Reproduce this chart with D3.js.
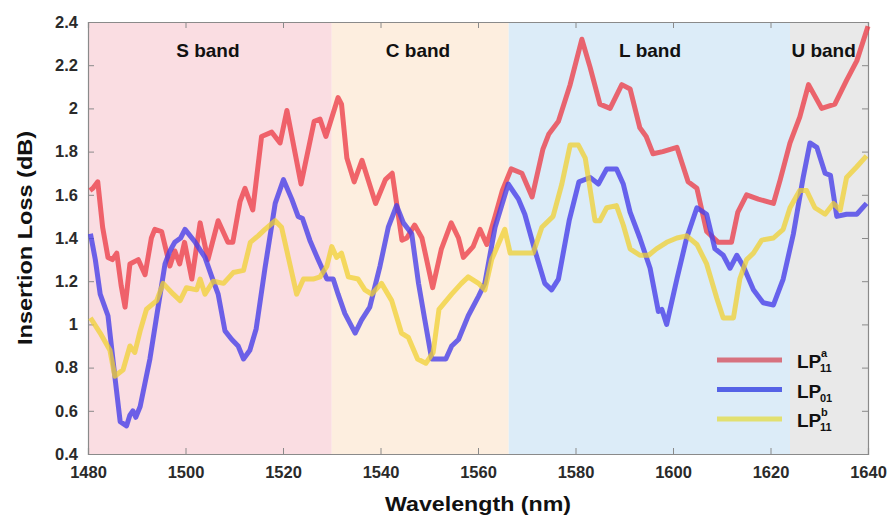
<!DOCTYPE html>
<html><head><meta charset="utf-8">
<script src="https://cdn.jsdelivr.net/npm/d3@7"></script>
<style>body{margin:0;background:#fff}svg{display:block;font-family:Arial,"Liberation Sans",sans-serif}</style>
</head><body><svg id="c" width="888" height="516"></svg>
<script>
// ---------- data ----------
const xTicks = [1480,1500,1520,1540,1560,1580,1600,1620,1640];
const yTicks = [0.4,0.6,0.8,1.0,1.2,1.4,1.6,1.8,2.0,2.2,2.4];
const bandNames = ["S band","C band","L band","U band"];
const bandEdges = [1480,1530,1566.3,1624,1640];
const seriesNames = ["LP11a","LP01","LP11b"];

const lp11a = [[1480.4,1.62],[1481.0,1.63],[1482.0,1.66],[1483.0,1.45],[1484.1,1.31],[1485.0,1.30],[1485.9,1.33],[1486.8,1.18],[1487.6,1.08],[1488.6,1.28],[1490.3,1.30],[1491.7,1.23],[1493.0,1.40],[1493.7,1.44],[1495.1,1.43],[1496.8,1.27],[1497.8,1.34],[1498.8,1.28],[1499.8,1.38],[1501.3,1.21],[1503.0,1.47],[1504.6,1.30],[1506.7,1.48],[1508.7,1.38],[1509.7,1.38],[1511.2,1.57],[1512.2,1.63],[1513.8,1.53],[1515.6,1.87],[1517.7,1.89],[1519.4,1.84],[1520.8,1.99],[1523.7,1.65],[1526.4,1.94],[1527.6,1.95],[1528.8,1.87],[1531.3,2.05],[1532.0,2.02],[1533.1,1.77],[1534.6,1.66],[1536.2,1.76],[1539.0,1.56],[1541.0,1.67],[1542.4,1.70],[1544.4,1.39],[1545.4,1.40],[1547.0,1.46],[1548.5,1.40],[1550.7,1.17],[1552.5,1.35],[1554.5,1.47],[1556.0,1.40],[1557.0,1.31],[1559.0,1.36],[1560.4,1.44],[1561.8,1.37],[1563.5,1.50],[1565.0,1.62],[1566.8,1.72],[1569.0,1.70],[1571.1,1.59],[1573.3,1.81],[1574.5,1.88],[1576.5,1.94],[1578.9,2.11],[1581.3,2.32],[1583.0,2.19],[1585.0,2.02],[1587.1,2.00],[1589.5,2.11],[1591.2,2.09],[1593.2,1.91],[1594.5,1.87],[1595.9,1.79],[1597.9,1.80],[1600.8,1.82],[1603.1,1.66],[1604.9,1.63],[1606.9,1.43],[1609.3,1.38],[1612.0,1.38],[1613.3,1.52],[1615.1,1.60],[1617.5,1.58],[1620.6,1.56],[1622.0,1.67],[1624.0,1.84],[1626.0,1.96],[1627.8,2.11],[1630.5,2.00],[1633.2,2.02],[1635.6,2.13],[1637.7,2.22],[1640.0,2.38]];

const lp01 = [[1480.5,1.42],[1481.5,1.30],[1482.5,1.14],[1484.1,1.04],[1485.5,0.76],[1486.6,0.55],[1487.9,0.53],[1488.6,0.58],[1489.2,0.60],[1489.8,0.57],[1490.7,0.62],[1492.7,0.84],[1494.1,1.04],[1495.8,1.28],[1496.8,1.34],[1497.8,1.38],[1499.0,1.40],[1499.9,1.44],[1502.0,1.38],[1504.0,1.31],[1505.4,1.22],[1506.7,1.14],[1508.1,0.97],[1509.5,0.93],[1510.8,0.90],[1511.9,0.84],[1513.2,0.88],[1514.5,0.98],[1516.3,1.26],[1518.4,1.56],[1520.1,1.67],[1521.8,1.58],[1523.1,1.50],[1524.0,1.49],[1525.5,1.39],[1527.2,1.30],[1529.0,1.21],[1530.3,1.21],[1531.3,1.14],[1532.7,1.05],[1534.8,0.96],[1536.1,1.02],[1537.8,1.08],[1539.9,1.27],[1541.6,1.45],[1543.3,1.55],[1544.7,1.47],[1546.4,1.42],[1547.8,1.19],[1549.1,1.02],[1550.5,0.84],[1553.4,0.84],[1554.6,0.90],[1556.0,0.93],[1558.0,1.04],[1560.1,1.13],[1561.4,1.19],[1563.5,1.45],[1566.2,1.65],[1568.3,1.58],[1569.6,1.51],[1571.7,1.34],[1573.7,1.19],[1575.1,1.16],[1576.5,1.21],[1578.7,1.48],[1580.7,1.66],[1583.0,1.68],[1584.7,1.65],[1586.4,1.72],[1588.4,1.72],[1589.8,1.65],[1591.2,1.52],[1593.2,1.40],[1595.3,1.26],[1597.0,1.06],[1597.7,1.07],[1598.7,1.00],[1600.8,1.21],[1602.8,1.40],[1604.9,1.54],[1606.9,1.51],[1608.6,1.35],[1610.3,1.32],[1611.7,1.26],[1613.1,1.32],[1614.4,1.27],[1616.5,1.16],[1618.5,1.10],[1620.6,1.09],[1622.6,1.21],[1624.7,1.42],[1626.7,1.68],[1628.1,1.84],[1629.5,1.82],[1631.2,1.70],[1632.3,1.69],[1633.6,1.50],[1635.6,1.51],[1637.7,1.51],[1639.7,1.56]];

const lp11b = [[1480.5,1.03],[1482.5,0.96],[1484.5,0.88],[1485.5,0.76],[1487.2,0.79],[1488.6,0.90],[1489.6,0.87],[1490.7,0.97],[1492.0,1.07],[1494.1,1.11],[1495.4,1.19],[1497.5,1.14],[1498.9,1.11],[1500.2,1.17],[1502.3,1.16],[1503.0,1.21],[1504.0,1.14],[1505.7,1.20],[1507.8,1.19],[1509.8,1.24],[1511.9,1.25],[1513.3,1.38],[1514.9,1.41],[1516.3,1.44],[1518.4,1.48],[1519.7,1.45],[1521.1,1.31],[1522.8,1.14],[1524.2,1.21],[1526.2,1.21],[1527.6,1.22],[1529.0,1.27],[1530.0,1.36],[1531.0,1.31],[1532.0,1.33],[1533.4,1.22],[1535.4,1.21],[1536.8,1.16],[1538.2,1.14],[1540.2,1.19],[1542.3,1.11],[1544.3,0.96],[1545.7,0.94],[1547.6,0.84],[1549.3,0.82],[1550.8,0.87],[1552.0,1.07],[1554.6,1.14],[1556.6,1.19],[1558.0,1.22],[1560.1,1.19],[1561.4,1.16],[1562.8,1.30],[1565.5,1.44],[1566.6,1.33],[1569.6,1.33],[1571.3,1.33],[1573.1,1.45],[1575.4,1.50],[1577.2,1.65],[1578.9,1.83],[1580.6,1.83],[1582.0,1.77],[1584.0,1.48],[1585.0,1.48],[1586.4,1.54],[1588.4,1.55],[1589.8,1.46],[1591.2,1.35],[1593.2,1.32],[1595.0,1.32],[1596.6,1.35],[1598.7,1.38],[1600.8,1.40],[1602.8,1.41],[1604.9,1.37],[1606.9,1.28],[1609.0,1.12],[1610.3,1.03],[1612.4,1.03],[1613.7,1.21],[1615.1,1.30],[1616.5,1.33],[1618.2,1.39],[1620.6,1.40],[1622.6,1.44],[1624.0,1.54],[1626.0,1.62],[1627.4,1.62],[1629.1,1.54],[1631.2,1.51],[1632.9,1.56],[1634.3,1.53],[1635.6,1.68],[1637.7,1.73],[1639.7,1.78]];

// ---------- styles ----------
const bandColors = ["#fadde2","#fdeedf","#dcecf8","#e9e9e9"];
const lineColors = ["rgba(236,62,72,0.78)","rgba(72,64,232,0.8)","rgba(240,208,50,0.75)"];
const legendColors = ["#d7727f","#5562e6","#e2e070"];

const svg = d3.select("#c");
const L = 88, R = 868, T = 22, B = 454;
const x = d3.scaleLinear().domain([1480,1640]).range([L,R]);
const y = d3.scaleLinear().domain([0.4,2.4]).range([B,T]);

// bands
svg.append("g").selectAll("rect").data(bandNames).join("rect")
  .attr("x",(d,i)=>x(bandEdges[i])).attr("y",T)
  .attr("width",(d,i)=>x(bandEdges[i+1])-x(bandEdges[i])).attr("height",B-T)
  .attr("fill",(d,i)=>bandColors[i]);

// band labels
const bandLabelX = [1504.6,1547.7,1595.3,1630.9];
svg.append("g").selectAll("text").data(bandNames).join("text")
  .attr("x",(d,i)=>x(bandLabelX[i])).attr("y",57)
  .attr("text-anchor","middle").attr("font-size",19).attr("font-weight","bold")
  .attr("fill","#111").text(d=>d);

// axes
const fmt = d => String(+d.toFixed(1));
const gx = svg.append("g").attr("transform",`translate(0,${B})`)
  .call(d3.axisBottom(x).tickValues(xTicks).tickSize(-6).tickPadding(12).tickFormat(d=>d));
const gxt = svg.append("g").attr("transform",`translate(0,${T})`)
  .call(d3.axisTop(x).tickValues(xTicks).tickSize(-6).tickFormat(""));
const gy = svg.append("g").attr("transform",`translate(${L},0)`)
  .call(d3.axisLeft(y).tickValues(yTicks).tickSize(-6).tickPadding(10).tickFormat(fmt));
const gyr = svg.append("g").attr("transform",`translate(${R},0)`)
  .call(d3.axisRight(y).tickValues(yTicks).tickSize(-6).tickFormat(""));
[gx,gxt,gy,gyr].forEach(g=>{
  g.select(".domain").attr("stroke","#8a8a8a").attr("stroke-width",1.2);
  g.selectAll(".tick line").attr("stroke","#8a8a8a");
  g.selectAll(".tick text").attr("font-size",16.5).attr("font-weight","bold")
    .attr("fill","#2a2a2a").attr("font-family","Arial,'Liberation Sans',sans-serif");
});
gx.selectAll(".tick text").attr("dy","0.71em");

// lines
const line = d3.line().x(d=>x(d[0])).y(d=>y(d[1]));
const series = [lp11a, lp01, lp11b];
svg.append("g").selectAll("path").data(series).join("path")
  .attr("d",line).attr("fill","none")
  .attr("stroke",(d,i)=>lineColors[i]).attr("stroke-width",5)
  .attr("stroke-linejoin","round").attr("stroke-linecap","butt");

// axis titles
svg.append("text").attr("x",478).attr("y",511).attr("text-anchor","middle")
  .attr("font-size",20).attr("font-weight","bold").attr("fill","#111")
  .attr("textLength",186).attr("lengthAdjust","spacingAndGlyphs")
  .text("Wavelength (nm)");
svg.append("text").attr("transform","translate(32,238) rotate(-90)")
  .attr("text-anchor","middle").attr("font-size",20).attr("font-weight","bold").attr("fill","#111")
  .attr("textLength",214).attr("lengthAdjust","spacingAndGlyphs")
  .text("Insertion Loss (dB)");

// legend
const supText = ["a","","b"];
const subText = ["11","01","11"];
const lg = svg.append("g");
seriesNames.forEach((n,i)=>{
  const yy = 360 + i*29.5;
  lg.append("line").attr("x1",717).attr("x2",782).attr("y1",yy).attr("y2",yy)
    .attr("stroke",legendColors[i]).attr("stroke-width",5);
  lg.append("text").attr("x",797).attr("y",yy+8).attr("font-size",19).attr("font-weight","bold")
    .attr("fill","#111").text("LP");
  if (supText[i]) lg.append("text").attr("x",821).attr("y",yy-3).attr("font-size",11)
    .attr("font-weight","bold").attr("fill","#111").text(supText[i]);
  lg.append("text").attr("x",820).attr("y",yy+12).attr("font-size",11)
    .attr("font-weight","bold").attr("fill","#111").text(subText[i]);
});
</script></body></html>
